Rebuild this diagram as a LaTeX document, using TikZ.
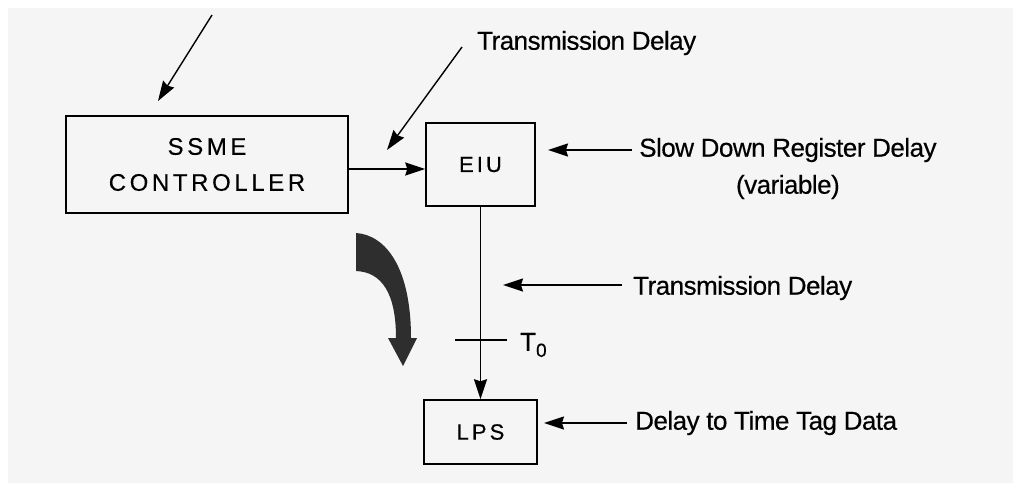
\documentclass[tikz,border=0pt]{standalone}
\usepackage{fontspec}
\setmainfont{Liberation Sans}
\usetikzlibrary{arrows.meta}
\begin{document}
\begin{tikzpicture}[x=1pt,y=-1pt,
  box/.style={draw, line width=1.5pt, inner sep=0pt},
  boxtxt/.style={font=\fontsize{24}{36}\selectfont\addfontfeature{LetterSpace=15,FakeBold=0.4}, align=center},
  smalltxt/.style={font=\fontsize{22}{24}\selectfont\addfontfeature{LetterSpace=14,FakeBold=0.4}},
  lbl/.style={font=\fontsize{26}{37}\selectfont\addfontfeature{LetterSpace=-2,FakeBold=0.4}, anchor=west, inner sep=0pt, align=center},
  arr/.style={line width=1.4pt, -{Stealth[length=20pt,width=13pt,inset=2pt]}},
]
\useasboundingbox (0,0) rectangle (1013,483);
\fill[white] (0,0) rectangle (1013,483);
\fill[black!4] (8,8) rectangle (1013,483);

% boxes
\node[box, boxtxt, minimum width=282pt, minimum height=97pt] (ssme) at (207,164.5) {SSME\\CONTROLLER};
\node[box, smalltxt, minimum width=109pt, minimum height=83pt] (eiu) at (480.5,164.5) {EIU};
\node[box, smalltxt, minimum width=113pt, minimum height=64pt] (lps) at (480.5,432) {LPS};

% main connectors
\draw[arr] ([yshift=-4.5pt]ssme.east) -- ([yshift=-4.5pt]eiu.west);
\draw[arr] (eiu.south) -- (lps.north);

% T0 tick
\coordinate (tl) at (455,340);
\coordinate (tr) at (507,340);
\draw[line width=1.4pt] (tl) -- (tr);
\node[font=\fontsize{26}{28}\selectfont\addfontfeature{FakeBold=0.4}, anchor=west, inner sep=0pt] (t0) at (520,345) {T\raisebox{-6pt}{\fontsize{19}{19}\selectfont 0}};

% labels
\node[lbl] (td1) at (477,43) {Transmission Delay};
\node[lbl] (sd) at (639,168.5) {Slow Down Register Delay\\(variable)};
\node[lbl] (td2) at (633,288) {Transmission Delay};
\node[lbl] (dtt) at (635,423) {Delay to Time Tag Data};

% pointer arrows
\coordinate (a0s) at (212,15);
\coordinate (a0e) at (158,101);
\draw[arr] (a0s) -- (a0e);
\coordinate (a1s) at (462,47);
\coordinate (a1e) at (387,150);
\draw[arr] (a1s) -- (a1e);
\coordinate (a2s) at (632,150);
\coordinate (a2e) at (548,150);
\draw[arr] (a2s) -- (a2e);
\coordinate (a3s) at (622,285);
\coordinate (a3e) at (503,285);
\draw[arr] (a3s) -- (a3e);
\coordinate (a4s) at (627,423);
\coordinate (a4e) at (544,423);
\draw[arr] (a4s) -- (a4e);

% curved thick arrow
\fill[black!82] (356,233) .. controls (386,235) and (411,268) .. (411,338)
  -- (417,338) -- (403,366) -- (388,338) -- (396,338)
  .. controls (396,292) and (381,272) .. (356,271) -- cycle;
\end{tikzpicture}
\end{document}
